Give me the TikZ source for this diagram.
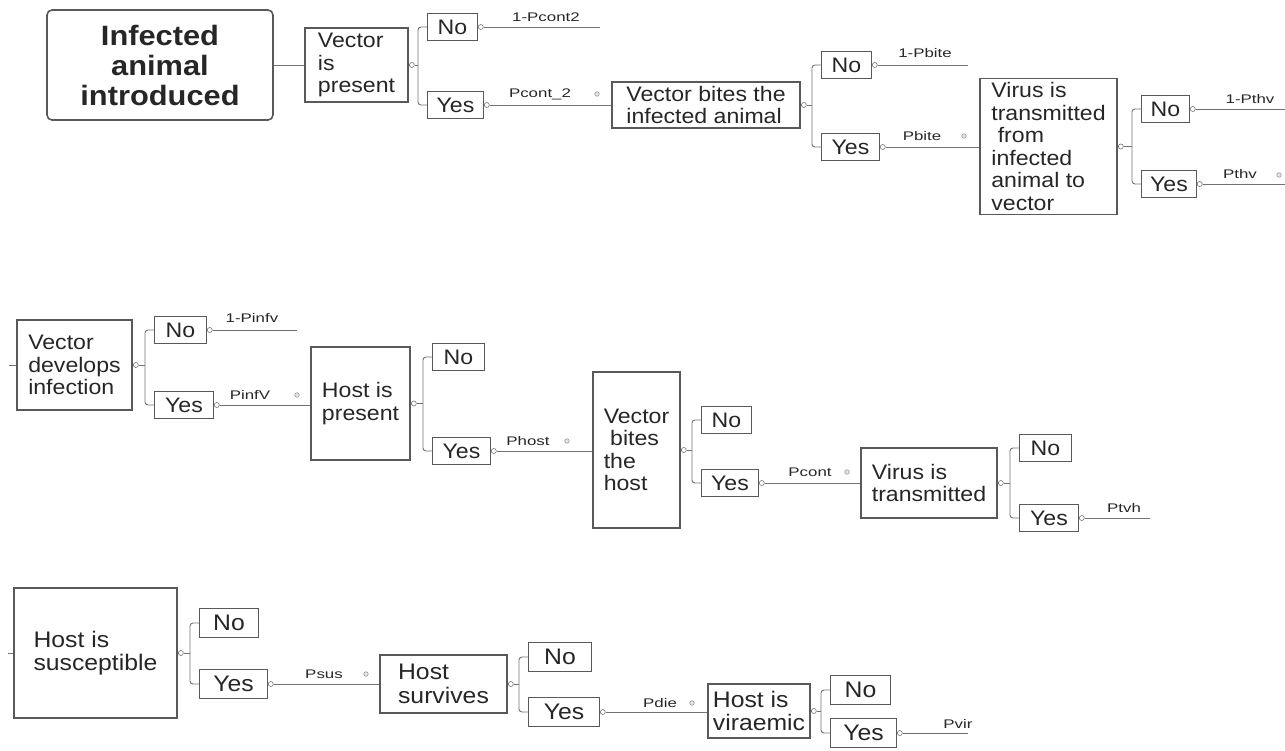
\documentclass[tikz,border=0pt]{standalone}
\usepackage{fontspec}
\setmainfont{Liberation Sans}[FakeStretch=1.1]
\newfontfamily\lblfont{Liberation Sans}[FakeStretch=1.35]
\usetikzlibrary{positioning, calc}

\tikzset{
  box/.style={draw=black!65, line width=1.1pt, align=left, inner sep=4pt, text=black!85},
  txt/.style={font=\fontsize{21}{22.5}\selectfont},
  txtb/.style={font=\fontsize{22.5}{23.5}\selectfont},
  yn/.style={draw=black!65, line width=1pt, inner sep=2pt, text=black!85},
  joint/.style={circle, draw=black!55, fill=white, line width=0.6pt, inner sep=0pt, minimum size=5pt},
  knob/.style={circle, draw=black!40, fill=black!10, line width=0.6pt, inner sep=0pt, minimum size=4.5pt},
  lbl/.style={font=\lblfont\fontsize{12.5}{14}\selectfont, text=black!85, inner sep=1pt},
  edge/.style={draw=black!55, line width=0.9pt}
}

\begin{document}
\begin{tikzpicture}[x=1pt,y=-1pt]
  \useasboundingbox (0,0) rectangle (1285,751);
  % first row
  \node[box, rounded corners=5pt, line width=1.6pt, minimum width=226, minimum height=110,
        align=center, font=\bfseries\fontsize{28}{30}\selectfont] (intro) at (160,65) {Infected\\animal\\introduced};
  \node[box, txt, minimum width=103, minimum height=74] (vpres) at (356.5,65) {Vector\\is\\present};
  \node[box, txt, minimum width=188, minimum height=46] (vbite) at (706,105) {Vector bites the\\infected animal};
  \node[box, txt, minimum width=137, minimum height=133] (vtrans) at (1048.5,146.5)
    {Virus is\\transmitted\\\ from\\infected\\animal to\\vector};
  % second row
  \node[box, txt, minimum width=115, minimum height=90] (vdev) at (74.5,365) {Vector\\develops\\infection};
  \node[box, txt, minimum width=99, minimum height=113] (hpres) at (360.5,403.5) {Host is\\present};
  \node[box, txt, minimum width=87, minimum height=156] (vbh) at (636.5,450) {Vector\\\ bites\\the\\host};
  \node[box, txt, minimum width=136, minimum height=70] (vtr2) at (929,483) {Virus is\\transmitted};
  % third row
  \node[box, txtb, minimum width=163, minimum height=130] (hsus) at (95.5,653) {Host is\\susceptible};
  \node[box, txtb, minimum width=127, minimum height=58] (hsurv) at (443.5,684) {Host\\survives};
  \node[box, txtb, minimum width=102, minimum height=54] (hvir) at (759,711) {Host is\\viraemic};

  \draw[edge] (intro) -- (vpres);
  \coordinate (s1) at (9,365);
  \coordinate (s2) at (8,653);
  \draw[edge] (s1) -- (vdev);
  \draw[edge] (s2) -- (hsus);

  % chance nodes with No / Yes branches
  \foreach \n/\src/\xb/\yn/\yy/\wn/\wy/\fs in {
      1/vpres/418/27/105/50/56/21, 2/vbite/812/65/147/50/58/21,
      3/vtrans/1132/109/184/48/55/21, 4/vdev/145/330/405/52/59/21,
      5/hpres/423/357/451/52/58/21, 6/vbh/692/420/483/50/57/21,
      7/vtr2/1010/448/518/52/59/21, 8/hsus/190/623/684/59/68/22.5,
      9/hsurv/519/657/712/63/71/22.5, 10/hvir/821/690/733/60/66/22.5}
  {
    \node[joint, right=0.5pt of \src] (c\n) {};
    \node[yn, font=\fontsize{\fs}{\fs}\selectfont, minimum width=\wn, minimum height=1.28*\fs,
          anchor=west] (no\n) at (\xb+9,\yn) {No};
    \node[yn, font=\fontsize{\fs}{\fs}\selectfont, minimum width=\wy, minimum height=1.28*\fs,
          anchor=west] (yes\n) at (\xb+9,\yy) {Yes};
    \node[joint, right=0pt of yes\n] (yc\n) {};
    \draw[edge] (\src) -- (c\n) -- (c\n -| \xb,0);
    \draw[edge, rounded corners=3pt] (no\n.west) -- (\xb,\yn) -- (\xb,\yy) -- (yes\n.west);
  }

  % branch ends
  \foreach \n in {1,2,3,4}
    {\node[joint, right=0pt of no\n] (nc\n) {};}
  \coordinate (e1) at (600,27);
  \coordinate (e2) at (968,65);
  \coordinate (e3) at (1285,109);
  \coordinate (e4) at (297,330);
  \coordinate (e5) at (1285,184);
  \coordinate (e6) at (1150,518);
  \coordinate (e7) at (968,733);
  \draw[edge] (nc1) -- (nc1 -| e1);
  \draw[edge] (nc2) -- (nc2 -| e2);
  \draw[edge] (nc3) -- (nc3 -| e3);
  \draw[edge] (nc4) -- (nc4 -| e4);
  \draw[edge] (yc1) -- (yc1 -| vbite.west);
  \draw[edge] (yc2) -- (yc2 -| vtrans.west);
  \draw[edge] (yc3) -- (yc3 -| e5);
  \draw[edge] (yc4) -- (yc4 -| hpres.west);
  \draw[edge] (yc5) -- (yc5 -| vbh.west);
  \draw[edge] (yc6) -- (yc6 -| vtr2.west);
  \draw[edge] (yc7) -- (yc7 -| e6);
  \draw[edge] (yc8) -- (yc8 -| hsurv.west);
  \draw[edge] (yc9) -- (yc9 -| hvir.west);
  \draw[edge] (yc10) -- (yc10 -| e7);

  % probabilities
  \node[lbl] (p1) at (546,17) {1-Pcont2};
  \node[lbl] (p2) at (540,94) {Pcont\_2};
  \node[lbl] (p3) at (925,53) {1-Pbite};
  \node[lbl] (p4) at (922,136) {Pbite};
  \node[lbl] (p5) at (1250,99) {1-Pthv};
  \node[lbl] (p6) at (1240,174) {Pthv};
  \node[lbl] (p7) at (252,318) {1-Pinfv};
  \node[lbl] (p8) at (250,395) {PinfV};
  \node[lbl] (p9) at (528,441) {Phost};
  \node[lbl] (p10) at (810,472) {Pcont};
  \node[lbl] (p11) at (1124,508) {Ptvh};
  \node[lbl] (p12) at (324,674) {Psus};
  \node[lbl] (p13) at (660,703) {Pdie};
  \node[lbl] (p14) at (958,724) {Pvir};
  \foreach \k/\kx/\ky in {1/597/94, 2/964/136, 3/1279/175, 4/297/395, 5/567/441,
                          6/847/472, 7/366/674, 8/692/703}
    {\node[knob] (k\k) at (\kx,\ky) {};}
\end{tikzpicture}
\end{document}
